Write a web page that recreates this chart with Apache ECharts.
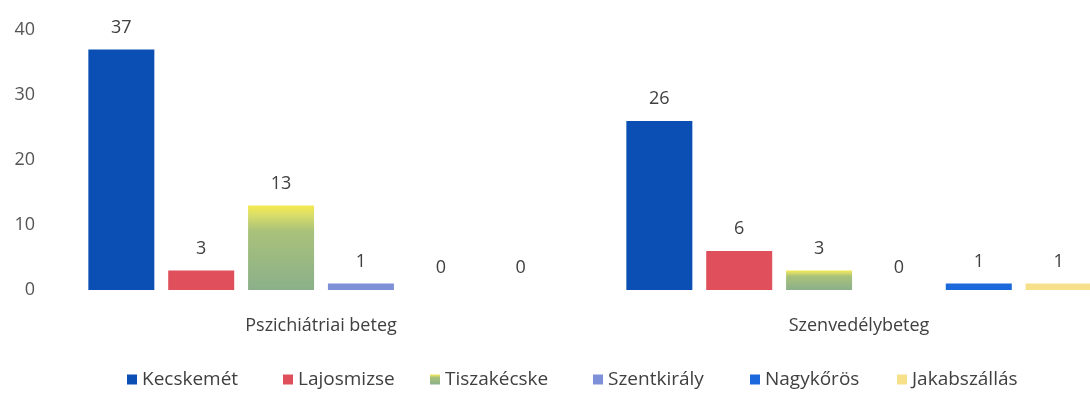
<!DOCTYPE html>
<html>
<head>
<meta charset="utf-8">
<script src="https://cdn.jsdelivr.net/npm/echarts@6/dist/echarts.min.js"></script>
<style>
  html, body { margin: 0; padding: 0; background: #fff; }
  #chart { width: 1090px; height: 401px; }
</style>
</head>
<body>
<div id="chart"></div>
<script>
// kategóriák és városonkénti értékek
var categories = ['Pszichiátriai beteg', 'Szenvedélybeteg']
var cities = ['Kecskemét', 'Lajosmizse', 'Tiszakécske', 'Szentkirály', 'Nagykőrös', 'Jakabszállás']
var kecskemet = [37, 26]
var lajosmizse = [3, 6]
var tiszakecske = [13, 3]
var szentkiraly = [1, 0]
var nagykoros = [0, 1]
var jakabszallas = [0, 1]
var yTicks = [0, 10, 20, 30, 40]

var font = '"Open Sans", "Liberation Sans", sans-serif'
var legendLeft = [122, 278, 425, 588, 745, 892] //a beolvasott kép jelmagyarázata széthúzott, ezért egyenként

function bar(name, data, color) {
  return {
    name: name,
    type: 'bar',
    barWidth: 66,
    barGap: '21%',
    data: data,
    itemStyle: { color: color },
    label: {
      show: true,
      position: 'top',
      distance: 13,
      color: '#404040',
      fontSize: 18,
      fontFamily: font
    }
  }
}

var chart = echarts.init(document.getElementById('chart'))
chart.setOption({
  animation: false,
  backgroundColor: '#fff',
  grid: { left: 52, width: 1076, top: 30, bottom: 111, outerBoundsMode: 'none' },
  legend: cities.map(function (c, i) {
    return {
      data: [c],
      bottom: 7,
      left: legendLeft[i],
      itemWidth: 10,
      itemHeight: 10,
      itemGap: 6,
      icon: 'rect',
      textStyle: { color: '#404040', fontSize: 19, fontFamily: font }
    }
  }),
  xAxis: {
    type: 'category',
    data: categories,
    axisLine: { show: false },
    axisTick: { show: false },
    axisLabel: { margin: 27, color: '#404040', fontSize: 18, fontFamily: font }
  },
  yAxis: {
    type: 'value',
    min: yTicks[0],
    max: yTicks[yTicks.length - 1],
    interval: 10,
    splitLine: { show: false },
    axisLabel: { color: '#555', fontSize: 18, fontFamily: font, margin: 17 }
  },
  series: [
    bar(cities[0], kecskemet, '#0b4fb4'),
    bar(cities[1], lajosmizse, '#e0505c'),
    bar(cities[2], tiszakecske, new echarts.graphic.LinearGradient(0, 0, 0, 1, [
      { offset: 0, color: '#f4ea50' },
      { offset: 0.12, color: '#d8dc6a' },
      { offset: 0.3, color: '#a9c27a' },
      { offset: 1, color: '#8bb08a' }
    ])),
    bar(cities[3], szentkiraly, '#7d90d8'),
    bar(cities[4], nagykoros, '#1a68dc'),
    bar(cities[5], jakabszallas, '#f7e08a')
  ]
})
</script>
</body>
</html>
